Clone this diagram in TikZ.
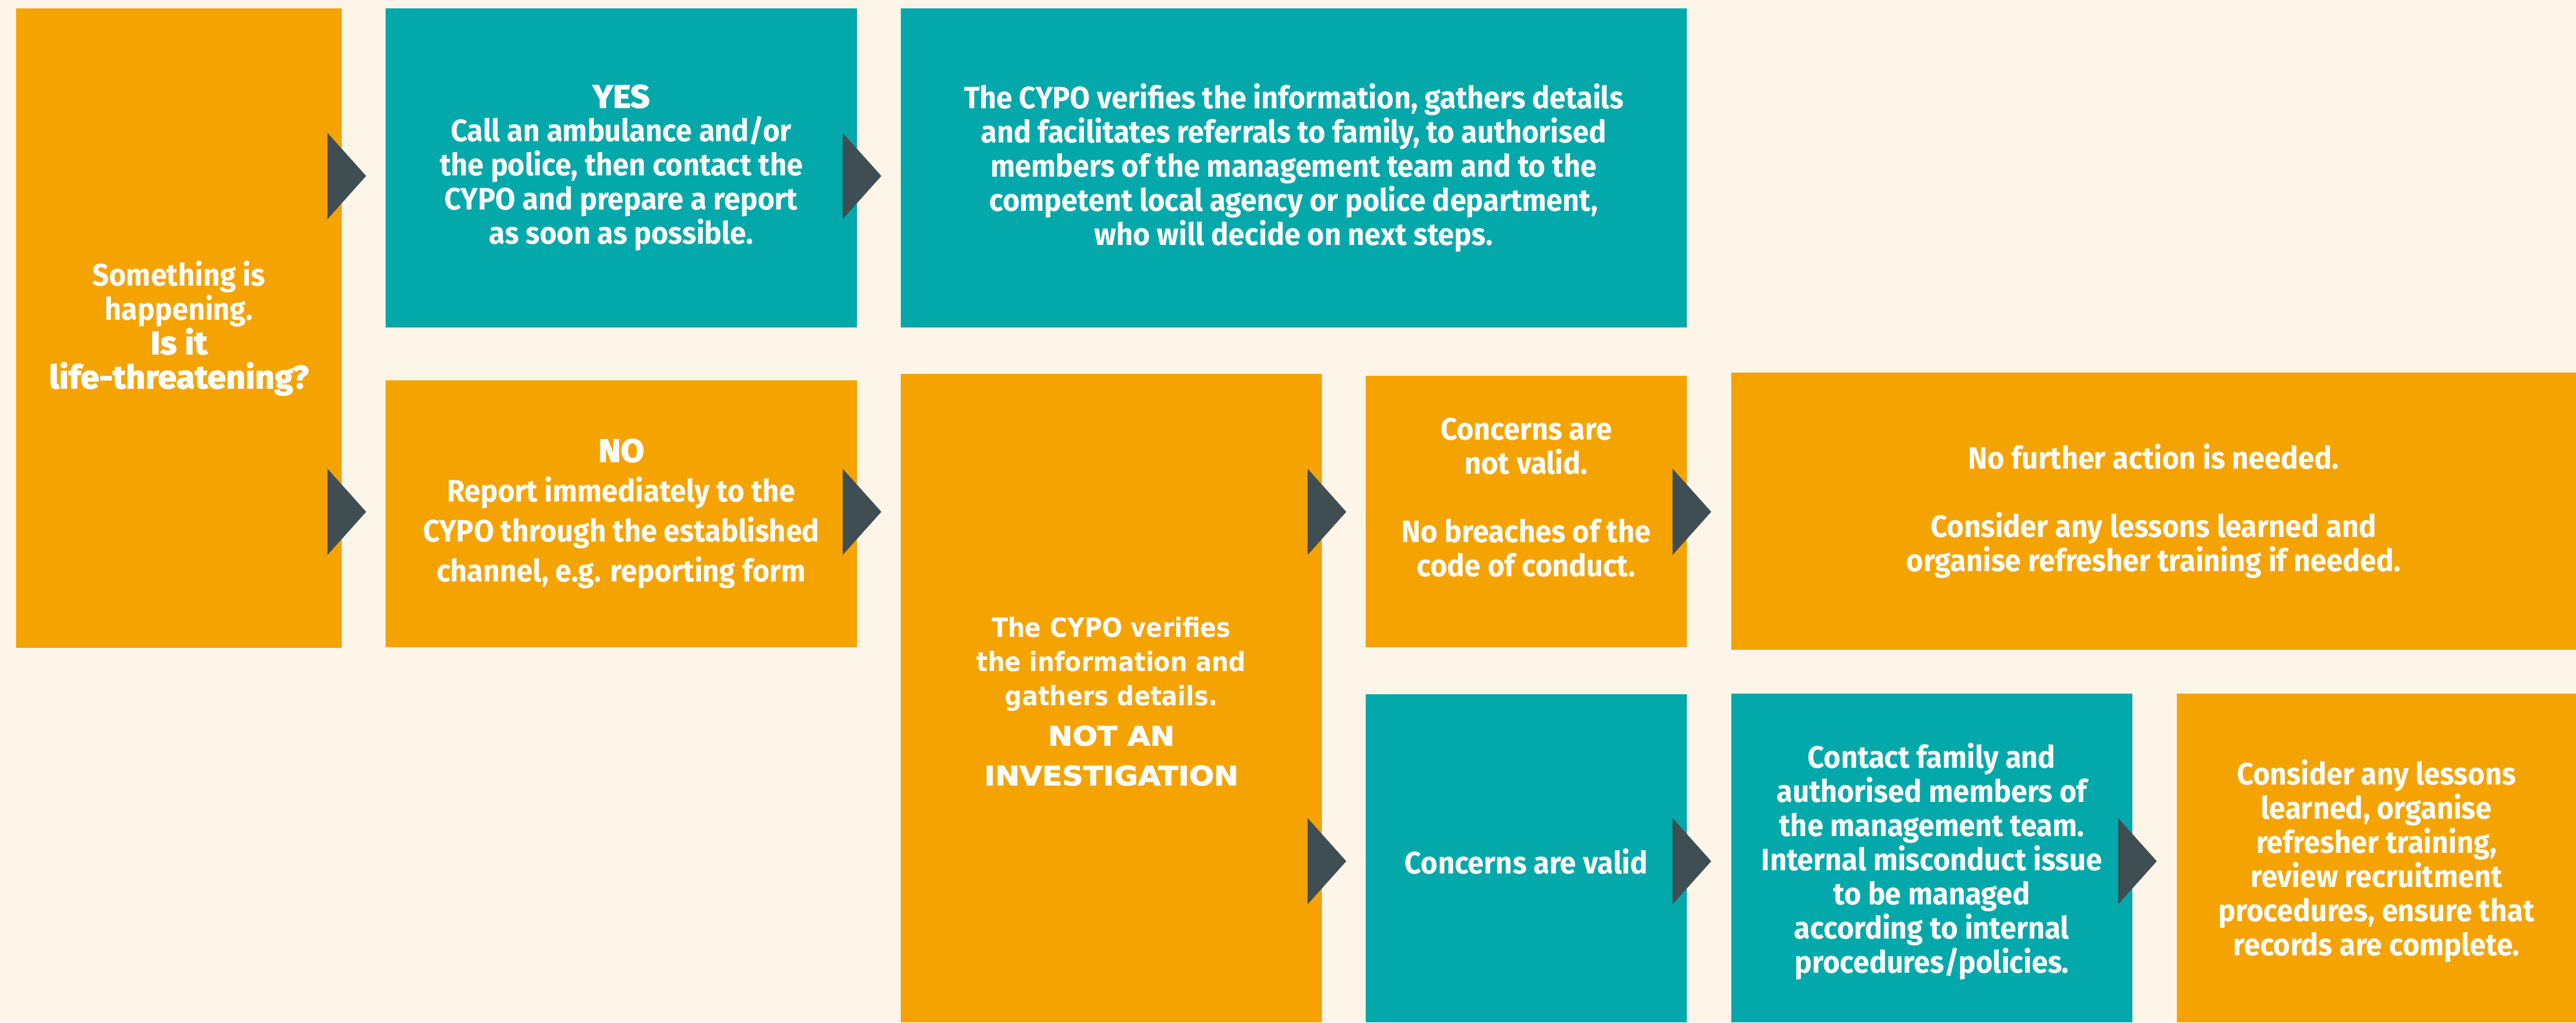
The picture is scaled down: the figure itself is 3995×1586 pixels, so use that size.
\documentclass[tikz,border=0pt]{standalone}
\usepackage{fontspec}
\setmainfont{Fira Sans}[FakeStretch=0.94]
\newfontfamily\heavyfont{Fira Sans}[FakeStretch=1.05, BoldFeatures={FakeBold=2.5}]
\newfontfamily\widefont{DejaVu Sans}[FakeStretch=0.9]
\newfontfamily\blackfont{DejaVu Sans}[FakeStretch=1.1, BoldFeatures={FakeBold=2.5}]
\usetikzlibrary{calc,fit}

\definecolor{bg}{HTML}{FEF5E9}
\definecolor{boxorange}{HTML}{F5A300}
\definecolor{boxteal}{HTML}{02A8AA}
\definecolor{ptrgrey}{HTML}{3F4E53}

\newcommand\hv[1]{{\heavyfont\bfseries\fontsize{12.5}{13.25}\selectfont #1}}
\newcommand\bk[1]{{\blackfont\bfseries #1}}

\tikzset{
  obox/.style={fill=boxorange, draw=none, inner sep=0pt},
  tbox/.style={fill=boxteal, draw=none, inner sep=0pt},
  txt/.style={text=white, align=center, inner sep=0pt,
    font=\fontsize{12}{13.25}\selectfont\bfseries},
  ptr/.style={fill=ptrgrey, draw=none}
}

% pointer triangle on the right edge of a box, at the height of a row
\newcommand\pointer[2]{%
  \fill[ptr] ($(#1.east |- #2)+(-23,-67)$) -- ++(60,67) -- ++(-60,67) -- cycle;}

\begin{document}
\begin{tikzpicture}[x=0.25pt, y=-0.25pt]
  \fill[bg] (0,0) rectangle (3995,1586);
  \useasboundingbox (0,0) rectangle (3995,1586);

  % row heights of the pointers
  \coordinate (r1) at (0,273);
  \coordinate (r2) at (0,794);
  \coordinate (r3) at (0,1336);

  % boxes
  \node[obox, fit={(25,13) (530,1005)}]    (A) {};
  \node[tbox, fit={(598,13) (1329,508)}]   (B) {};
  \node[obox, fit={(598,590) (1329,1004)}] (C) {};
  \node[tbox, fit={(1397,13) (2616,508)}]  (D) {};
  \node[obox, fit={(1397,580) (2050,1586)}] (E) {};
  \node[obox, fit={(2118,583) (2616,1004)}] (F) {};
  \node[obox, fit={(2685,578) (3995,1008)}] (G) {};
  \node[tbox, fit={(2118,1077) (2616,1586)}] (H) {};
  \node[tbox, fit={(2685,1076) (3307,1586)}] (I) {};
  \node[obox, fit={(3376,1076) (3995,1586)}] (J) {};

  % texts
  \node[txt] (tA) at (A.center) {Something is\\happening.\\\hv{Is it}\\\hv{life-threatening?}};
  \node[txt] (tB) at (B.center) {\hv{YES}\\Call an ambulance and/or\\the police, then contact the\\CYPO and prepare a report\\as soon as possible.};
  \node[txt, font=\fontsize{12}{15.5}\selectfont\bfseries] (tC) at (C.center)
    {\hv{NO}\\Report immediately to the\\CYPO through the established\\channel, e.g. reporting form};
  \node[txt] (tD) at (D.center) {The CYPO verifies the information, gathers details\\and facilitates referrals to family, to authorised\\members of the management team and to the\\competent local agency or police department,\\who will decide on next steps.};
  \node[txt, font=\fontsize{10.3}{13.25}\selectfont\widefont\bfseries] (tE) at ($(E.center)+(0,5)$)
    {The CYPO verifies\\the information and\\gathers details.\\[2.2pt]\bk{NOT AN}\\[2.2pt]\bk{INVESTIGATION}};
  \node[txt] (tF) at ($(F.center)+(0,-22)$) {Concerns are\\not valid.\\[13.25pt]No breaches of the\\code of conduct.};
  \node[txt] (tG) at (G.center) {No further action is needed.\\[13.25pt]Consider any lessons learned and\\organise refresher training if needed.};
  \node[txt] (tH) at (H.center |- r3) {Concerns are valid};
  \node[txt] (tI) at (I.center |- r3) {Contact family and\\authorised members of\\the management team.\\Internal misconduct issue\\to be managed\\according to internal\\procedures/policies.};
  \node[txt] (tJ) at (J.center |- r3) {Consider any lessons\\learned, organise\\refresher training,\\review recruitment\\procedures, ensure that\\records are complete.};

  % pointers between the steps
  \pointer{A}{r1}
  \pointer{A}{r2}
  \pointer{B}{r1}
  \pointer{C}{r2}
  \pointer{E}{r2}
  \pointer{E}{r3}
  \pointer{F}{r2}
  \pointer{H}{r3}
  \pointer{I}{r3}
\end{tikzpicture}
\end{document}
